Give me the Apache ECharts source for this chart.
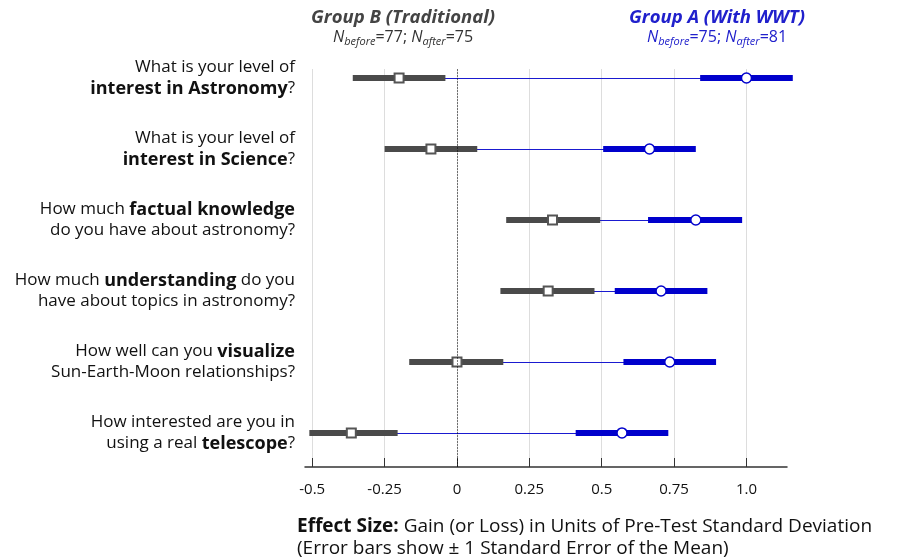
<!DOCTYPE html>
<html>
<head>
<meta charset="utf-8">
<script src="https://cdn.jsdelivr.net/npm/echarts@6/dist/echarts.min.js"></script>
<style>
  html, body { margin: 0; padding: 0; background: #fff; }
  #chart { width: 917px; height: 559px; }
</style>
</head>
<body>
<div id="chart"></div>
<script>
// questions, top to bottom; **...** marks the bold part
const questions = [
  'What is your level of\n**interest in Astronomy**?',
  'What is your level of\n**interest in Science**?',
  'How much **factual knowledge**\ndo you have about astronomy?',
  'How much **understanding** do you\nhave about topics in astronomy?',
  'How well can you **visualize**\nSun-Earth-Moon relationships?',
  'How interested are you in\nusing a real **telescope**?',
];

// Group B (Traditional): mean and +/- 1 SE
const groupBMean = [-0.2, -0.09, 0.33, 0.315, 0.0, -0.365];
const groupBLow = [-0.36, -0.25, 0.17, 0.15, -0.165, -0.51];
const groupBHigh = [-0.04, 0.07, 0.495, 0.475, 0.16, -0.205];

// Group A (With WWT)
const groupAMean = [1.0, 0.665, 0.825, 0.705, 0.735, 0.57];
const groupALow = [0.84, 0.505, 0.66, 0.545, 0.575, 0.41];
const groupAHigh = [1.16, 0.825, 0.985, 0.865, 0.895, 0.73];

const xTicks = [-0.5, -0.25, 0, 0.25, 0.5, 0.75, 1.0];
const rowIdx = questions.map((q, i) => i);

const FONT = 'Open Sans';
const GRAY = '#4a4a4a';
const BLUE = '#0000cc';
const HEAD_BLUE = '#2020cc';

function toRich(q) {
  return q
    .split('\n')
    .map((line) =>
      line
        .split('**')
        .map((part, k) => (part ? `{${k % 2 ? 'b' : 'n'}|${part}}` : ''))
        .join('')
    )
    .join('\n');
}

function nRich(color) {
  return {
    i: { fontFamily: FONT, fontSize: 16, fontStyle: 'italic', color, lineHeight: 19 },
    s: { fontFamily: FONT, fontSize: 11, fontStyle: 'italic', color, lineHeight: 11, verticalAlign: 'bottom' },
    r: { fontFamily: FONT, fontSize: 16, color, lineHeight: 19 },
  };
}

const barItem = (color) => (params, api) => {
  const lo = api.coord([api.value(0), api.value(2)]);
  const hi = api.coord([api.value(1), api.value(2)]);
  const y = Math.round(lo[1]);
  return {
    type: 'rect',
    shape: { x: lo[0], y: y - 3, width: hi[0] - lo[0], height: 6 },
    style: { fill: color },
  };
};

const linkItem = (params, api) => {
  const a = api.coord([api.value(0), api.value(2)]);
  const b = api.coord([api.value(1), api.value(2)]);
  const y = Math.round(a[1]) + 0.5;
  return {
    type: 'line',
    shape: { x1: a[0], y1: y, x2: b[0], y2: y },
    style: { stroke: '#1a1ad0', lineWidth: 1 },
  };
};

const chart = echarts.init(document.getElementById('chart'));

chart.setOption({
  animation: false,
  backgroundColor: '#fff',
  textStyle: { fontFamily: FONT },
  title: [
    {
      left: 398,
      top: 3,
      textAlign: 'center',
      text: 'Group B (Traditional)',
      textStyle: { fontFamily: FONT, fontSize: 18.5, fontStyle: 'italic', fontWeight: 'bold', color: '#444' },
      subtext: '{i|N}{s|before}{r|=77; }{i|N}{s|after}{r|=75}',
      itemGap: 1,
      subtextStyle: { rich: nRich('#333') },
    },
    {
      left: 712,
      top: 3,
      textAlign: 'center',
      text: 'Group A (With WWT)',
      textStyle: { fontFamily: FONT, fontSize: 18.5, fontStyle: 'italic', fontWeight: 'bold', color: HEAD_BLUE },
      subtext: '{i|N}{s|before}{r|=75; }{i|N}{s|after}{r|=81}',
      itemGap: 1,
      subtextStyle: { rich: nRich(HEAD_BLUE) },
    },
    {
      left: 292,
      top: 511,
      text:
        '{b|Effect Size:}{n| Gain (or Loss) in Units of Pre-Test Standard Deviation}\n' +
        '{n|(Error bars show \u00b1 1 Standard Error of the Mean)}',
      textStyle: {
        rich: {
          b: { fontFamily: FONT, fontSize: 19, fontWeight: 'bold', color: '#111', lineHeight: 22 },
          n: { fontFamily: FONT, fontSize: 19, fontWeight: 'normal', color: '#111', lineHeight: 22 },
        },
      },
    },
  ],
  grid: { left: 305, right: 130, top: 69.5, bottom: 92, containLabel: false },
  xAxis: {
    type: 'value',
    min: -0.525,
    max: 1.14,
    axisLine: { show: true, onZero: false, lineStyle: { color: '#333', width: 1.5 } },
    axisTick: { show: true, inside: true, length: 9, customValues: xTicks, lineStyle: { color: '#333' } },
    axisLabel: {
      customValues: xTicks,
      margin: 15,
      fontFamily: FONT,
      fontSize: 15,
      color: '#111',
      formatter: (v) => (v === 1 ? '1.0' : String(v)),
    },
    splitLine: { show: true, lineStyle: { type: 'dotted', color: '#bbb' } },
  },
  yAxis: {
    type: 'value',
    inverse: true,
    min: -0.12,
    max: 5.48,
    axisLine: { show: false },
    axisTick: { show: false },
    splitLine: { show: false },
    axisLabel: {
      customValues: rowIdx,
      margin: 10,
      formatter: (v) => toRich(questions[v]),
      rich: {
        n: { fontFamily: FONT, fontSize: 17, color: '#111', lineHeight: 21 },
        b: { fontFamily: FONT, fontSize: 18, fontWeight: 'bold', color: '#111', lineHeight: 21 },
      },
    },
  },
  series: [
    {
      type: 'custom',
      name: 'link',
      z: 1,
      renderItem: linkItem,
      encode: { x: [0, 1], y: 2 },
      data: rowIdx.map((i) => [groupBMean[i], groupAMean[i], i]),
      markLine: {
        silent: true,
        symbol: 'none',
        label: { show: false },
        lineStyle: { type: [1, 2], color: '#000', width: 1 },
        data: [{ xAxis: 0 }],
      },
    },
    {
      type: 'custom',
      name: 'Group B',
      z: 2,
      renderItem: barItem(GRAY),
      encode: { x: [0, 1], y: 2 },
      data: rowIdx.map((i) => [groupBLow[i], groupBHigh[i], i]),
    },
    {
      type: 'custom',
      name: 'Group A',
      z: 2,
      renderItem: barItem(BLUE),
      encode: { x: [0, 1], y: 2 },
      data: rowIdx.map((i) => [groupALow[i], groupAHigh[i], i]),
    },
    {
      type: 'scatter',
      z: 3,
      symbol: 'rect',
      symbolSize: 9,
      itemStyle: { color: '#fff', opacity: 1, borderColor: '#555', borderWidth: 2 },
      data: rowIdx.map((i) => [groupBMean[i], i]),
    },
    {
      type: 'scatter',
      z: 3,
      symbol: 'circle',
      symbolSize: 10,
      itemStyle: { color: '#fff', opacity: 1, borderColor: BLUE, borderWidth: 1.5 },
      data: rowIdx.map((i) => [groupAMean[i], i]),
    },
  ],
});
</script>
</body>
</html>
